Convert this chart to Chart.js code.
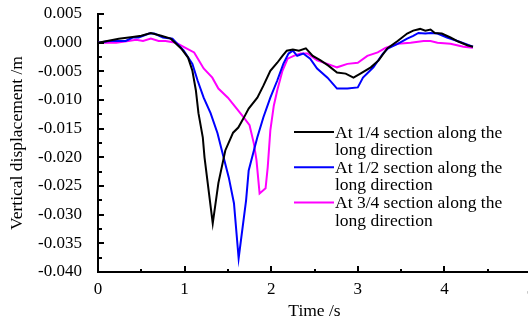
<!DOCTYPE html>
<html><head><meta charset="utf-8">
<script src="https://cdn.jsdelivr.net/npm/chart.js@4.4.1/dist/chart.umd.min.js"></script>
<style>
html,body{margin:0;padding:0;background:#fff;overflow:hidden;}
#wrap{width:540px;height:322px;position:relative;}
</style></head><body>
<div id="wrap"><canvas id="c" width="540" height="322"></canvas></div>
<script>
const labels = ['At 1/4 section along the\nlong direction','At 1/2 section along the\nlong direction','At 3/4 section along the\nlong direction'];
const colors = ['#000000','#0000ff','#ff00ff'];
const t1 = [0,0.24,0.40,0.50,0.61,0.73,0.84,0.96,1.04,1.09,1.13,1.16,1.21,1.23,1.325,1.39,1.47,1.56,1.62,1.68,1.74,1.84,1.91,1.99,2.07,2.13,2.18,2.25,2.32,2.40,2.48,2.57,2.66,2.76,2.86,2.95,3.03,3.15,3.24,3.34,3.46,3.57,3.64,3.72,3.78,3.84,3.89,3.97,4.07,4.16,4.27,4.33];
const v1 = [0,0.0007,0.0010,0.0012,0.0017,0.0012,0.0007,-0.0010,-0.0026,-0.0049,-0.0083,-0.0123,-0.0165,-0.0200,-0.0315,-0.0245,-0.0188,-0.0157,-0.0148,-0.0132,-0.0115,-0.0096,-0.0075,-0.0049,-0.0035,-0.0023,-0.0014,-0.0012,-0.0014,-0.0010,-0.0023,-0.0031,-0.0040,-0.0052,-0.0054,-0.0061,-0.0054,-0.0043,-0.0031,-0.0010,0.0003,0.0016,0.0021,0.0024,0.0021,0.0023,0.0017,0.0016,0.0009,0.0002,-0.0005,-0.0007];
const t2 = [0,0.13,0.32,0.40,0.47,0.59,0.65,0.75,0.86,0.99,1.09,1.15,1.22,1.30,1.38,1.45,1.51,1.57,1.624,1.71,1.74,1.80,1.84,1.91,1.99,2.07,2.14,2.20,2.25,2.30,2.37,2.45,2.53,2.65,2.76,2.88,3.00,3.06,3.18,3.29,3.35,3.46,3.57,3.64,3.70,3.78,3.84,3.92,4.03,4.15,4.26,4.33];
const v2 = [0,0.0003,0.0003,0.0009,0.0009,0.0016,0.0016,0.0009,0.0007,-0.0014,-0.0037,-0.0066,-0.0096,-0.0123,-0.0158,-0.0200,-0.0235,-0.0280,-0.0376,-0.0275,-0.0223,-0.0188,-0.0165,-0.0130,-0.0096,-0.0066,-0.0037,-0.0019,-0.0014,-0.0023,-0.0019,-0.0028,-0.0045,-0.0061,-0.0080,-0.0080,-0.0078,-0.0061,-0.0043,-0.0019,-0.0010,-0.0002,0.0007,0.0012,0.0017,0.0016,0.0017,0.0016,0.0009,0.0003,-0.0003,-0.0007];
const t3 = [0,0.21,0.35,0.44,0.52,0.61,0.70,0.78,0.90,1.01,1.11,1.22,1.32,1.39,1.50,1.59,1.68,1.75,1.80,1.83,1.866,1.935,1.96,1.99,2.03,2.07,2.13,2.19,2.26,2.34,2.42,2.53,2.65,2.76,2.88,3.00,3.11,3.23,3.32,3.46,3.61,3.76,3.84,3.92,4.07,4.22,4.33];
const v3 = [0,0,0.0003,0.0005,0.0003,0.0007,0.0003,0.0003,0,-0.0009,-0.0017,-0.0045,-0.0061,-0.0080,-0.0096,-0.0113,-0.0130,-0.0144,-0.0176,-0.0205,-0.0263,-0.0254,-0.0217,-0.0153,-0.0110,-0.0083,-0.0049,-0.0028,-0.0023,-0.0019,-0.0019,-0.0031,-0.0037,-0.0043,-0.0037,-0.0035,-0.0023,-0.0017,-0.0009,-0.0002,0,0.0003,0.0003,0,-0.0002,-0.0007,-0.0009];
const xMin = 0, xMax = 5, xStep = 1;
const yMin = -0.040, yMax = 0.005, yStep = 0.005;

const FONT = "'Liberation Serif','Times New Roman',serif";
function pts(t, v){ return t.map((x,i)=>({x:x, y:v[i]})); }

const tickPlugin = {
  id:'innerTicks',
  afterDraw(chart){
    const ctx = chart.ctx, xs = chart.scales.x, ys = chart.scales.y;
    const a = chart.chartArea;
    ctx.save();
    ctx.strokeStyle = '#000'; ctx.lineWidth = 2;
    ctx.beginPath();
    for (let v = yMin; v <= yMax + 1e-9; v += yStep/2) {
      const major = Math.abs(Math.round(v/yStep)*yStep - v) < 1e-9;
      const y = Math.round(ys.getPixelForValue(v));
      ctx.moveTo(a.left, y); ctx.lineTo(a.left + (major ? 6 : 4), y);
    }
    for (let v = xMin; v <= xMax + 1e-9; v += xStep/2) {
      const major = Math.abs(Math.round(v/xStep)*xStep - v) < 1e-9;
      const x = Math.round(xs.getPixelForValue(v));
      ctx.moveTo(x, a.bottom); ctx.lineTo(x, a.bottom - (major ? 6 : 3));
    }
    ctx.stroke();
    ctx.restore();
  }
};

const legendPlugin = {
  id:'customLegend',
  afterDraw(chart){
    const ctx = chart.ctx;
    ctx.save();
    ctx.font = "17.5px " + FONT;
    ctx.textBaseline = 'middle';
    ctx.fillStyle = '#000';
    let y = 132;
    chart.data.datasets.forEach(ds => {
      ctx.strokeStyle = ds.borderColor; ctx.lineWidth = 2;
      ctx.beginPath(); ctx.moveTo(294, y); ctx.lineTo(334, y); ctx.stroke();
      const lines = ds.label.split('\n');
      lines.forEach((ln, i) => ctx.fillText(ln, 335, y + 1 + i*17.6));
      y += 35.3;
    });
    ctx.restore();
  }
};

new Chart(document.getElementById('c'), {
  type:'line',
  data:{ datasets:[
    {label:labels[0], data:pts(t1,v1), borderColor:colors[0]},
    {label:labels[1], data:pts(t2,v2), borderColor:colors[1]},
    {label:labels[2], data:pts(t3,v3), borderColor:colors[2]}
  ].map(d=>Object.assign(d,{borderWidth:2, pointRadius:0, tension:0, fill:false})) },
  options:{
    responsive:false, animation:false,
    layout:{padding:{top:14, right:9, left:0, bottom:0}},
    plugins:{legend:{display:false}, tooltip:{enabled:false}},
    scales:{
      x:{type:'linear', min:xMin, max:xMax,
        ticks:{stepSize:xStep, color:'#000', font:{family:FONT, size:17}, padding:7, maxRotation:0,
          callback:v=>String(v)},
        grid:{display:false, drawTicks:false},
        border:{display:true, color:'#000', width:2},
        title:{display:true, text:'Time /s', color:'#000', font:{family:FONT, size:17.5}, padding:{top:0,bottom:0}},
        afterFit:s=>{s.height=50; s.paddingLeft=0; s.paddingRight=0;}
      },
      y:{type:'linear', min:yMin, max:yMax,
        ticks:{stepSize:yStep, color:'#000', font:{family:FONT, size:17}, padding:16,
          callback:v=>Number(v).toFixed(3)},
        grid:{display:false, drawTicks:false},
        border:{display:true, color:'#000', width:2},
        title:{display:true, text:'Vertical displacement /m', color:'#000', font:{family:FONT, size:17.5}, padding:{top:7,bottom:0}},
        afterFit:s=>{s.width=98; s.paddingTop=0; s.paddingBottom=0;}
      }
    }
  },
  plugins:[tickPlugin, legendPlugin]
});
</script>
</body></html>
